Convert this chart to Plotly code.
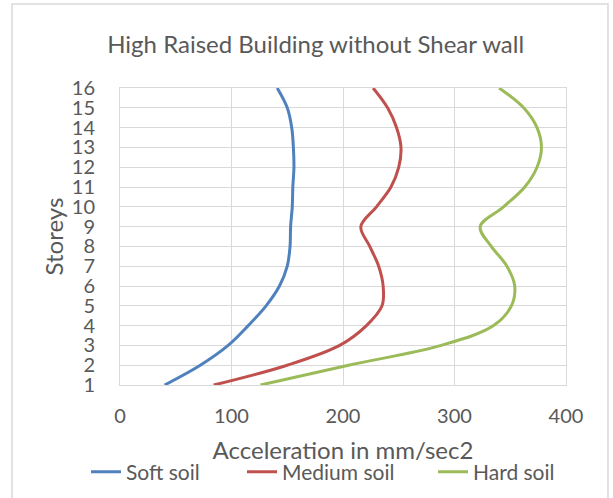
import plotly.graph_objects as go

# Storey levels and peak floor acceleration (mm/sec2) for each soil type
storeys = list(range(1, 17))
soft_soil = [40, 72, 97, 115, 131, 143, 150, 152.5, 153, 154.5, 155, 156, 155.5, 154, 150, 141]
medium_soil = [84, 150, 197, 221, 235, 236, 232, 224, 216, 230, 243, 250, 252, 248, 240, 227]
hard_soil = [126, 205, 288, 335, 351, 354, 347, 333, 323, 344, 363, 374, 378, 374, 362, 340]

series_names = ["Soft soil", "Medium soil", "Hard soil"]
series_colors = ["#4F81BD", "#C0504D", "#9BBB59"]
legend_ids = ["legend", "legend2", "legend3"]

x_ticks = [0, 100, 200, 300, 400]
y_ticks = storeys

FONT = "Lato"
GRAY = "#595959"
GRID = "#D9D9D9"

fig = go.Figure()
for name, vals, color, lg in zip(series_names, [soft_soil, medium_soil, hard_soil],
                                 series_colors, legend_ids):
    fig.add_trace(go.Scatter(
        x=vals, y=storeys, name=name, mode="lines", legend=lg,
        line=dict(color=color, width=3, shape="spline", smoothing=1.0),
    ))

# plot area in pixels: left 120, right 566, top 88, bottom 385
L, R, T, B = 120, 566, 88, 385
W, H = 613, 498
pw, ph = R - L, B - T

def px_x(p):
    return (p - L) / pw

def px_y(p):
    return (B - p) / ph

def legend_box(left_px):
    return dict(orientation="h", x=px_x(left_px), xanchor="left",
                y=px_y(472), yanchor="middle",
                font=dict(size=21, color=GRAY, family=FONT),
                bgcolor="rgba(0,0,0,0)")

fig.update_layout(
    width=W, height=H,
    margin=dict(l=L, r=W - R, t=T, b=H - B, autoexpand=False),
    paper_bgcolor="white", plot_bgcolor="white",
    font=dict(family=FONT, color=GRAY),
    title=dict(text="High Raised Building without Shear wall",
               x=0.515, xanchor="center", y=1 - 45 / H, yanchor="middle",
               font=dict(size=24, color=GRAY, family=FONT)),
    showlegend=True,
    legend=legend_box(86),
    legend2=legend_box(242),
    legend3=legend_box(433),
    xaxis=dict(range=[0, 400], tickvals=x_ticks, showgrid=True, gridcolor=GRID,
               gridwidth=1, zeroline=False, showline=True, linecolor=GRID,
               linewidth=1, mirror=True, ticks="",
               tickfont=dict(size=20, color=GRAY, family=FONT),
               ticklabelstandoff=13,
               title=dict(text="Acceleration in mm/sec2", standoff=16,
                          font=dict(size=24, color=GRAY, family=FONT))),
    yaxis=dict(range=[1, 16], tickvals=y_ticks, showgrid=True, gridcolor=GRID,
               gridwidth=1, zeroline=False, showline=True, linecolor=GRID,
               linewidth=1, mirror=True, ticks="",
               tickfont=dict(size=20, color=GRAY, family=FONT),
               ticklabelstandoff=20,
               title=dict(text="Storeys", standoff=1,
                          font=dict(size=24, color=GRAY, family=FONT))),
    shapes=[dict(type="rect", xref="paper", yref="paper",
                 x0=px_x(12), x1=px_x(608), y0=px_y(500), y1=px_y(4),
                 line=dict(color="#D9D9D9", width=1.5), layer="below")],
)

fig.write_html("out.html")
